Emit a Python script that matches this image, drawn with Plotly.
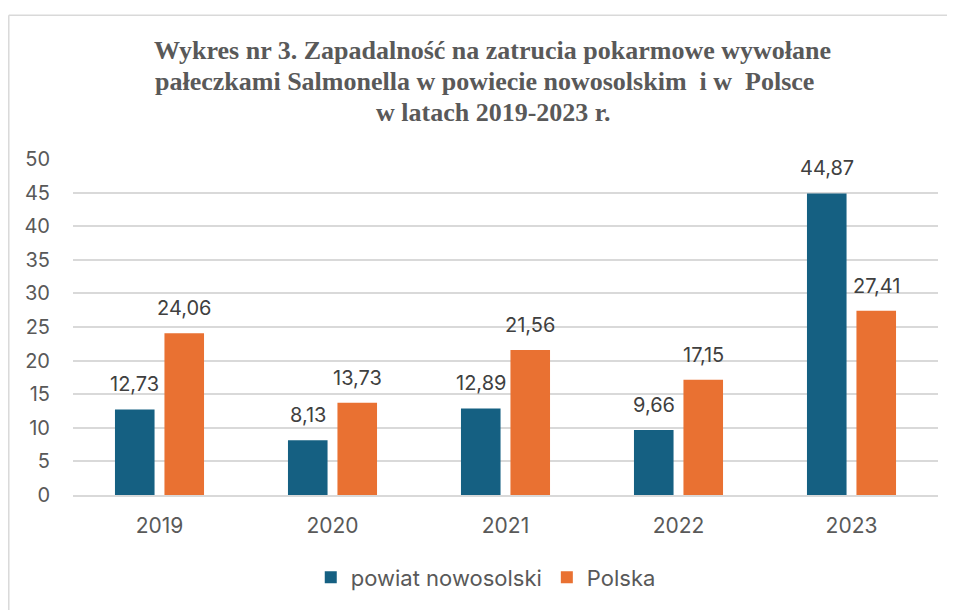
import plotly.graph_objects as go

years = ["2019", "2020", "2021", "2022", "2023"]
powiat = [12.73, 8.13, 12.89, 9.66, 44.87]
polska = [24.06, 13.73, 21.56, 17.15, 27.41]
series_names = ["powiat nowosolski", "Polska"]
title_lines = [
    "Wykres nr 3. Zapadalność na zatrucia pokarmowe wywołane",
    "pałeczkami Salmonella w powiecie nowosolskim  i w  Polsce",
    "w latach 2019-2023 r.",
]

BLUE = "#156082"
ORANGE = "#E97132"
TXT = "#595959"
SANS = "Inter, Liberation Sans, sans-serif"
SERIF = "Liberation Serif, Times New Roman, serif"

def fmt(v):
    return f"{v:.2f}".replace(".", ",")

OFF = 8  # page body margin
W, H = 955 - OFF, 610 - OFF

# page-pixel layout targets
plot_left, plot_right, plot_top, plot_bottom = 73, 938.5, 159, 497
L = plot_left - OFF
T = plot_top - OFF
R = W - (plot_right - OFF)
B = H - (plot_bottom - OFF)
pw, ph = W - L - R, H - T - B

def px_x(px):
    return (px - OFF - L) / pw

def px_y(py):
    return (H - B - (py - OFF)) / ph

fig = go.Figure()
for name, vals, col in [(series_names[0], powiat, BLUE), (series_names[1], polska, ORANGE)]:
    fig.add_trace(go.Bar(
        x=years, y=vals, name=name,
        marker=dict(color=col, line=dict(width=0)),
    ))

# data labels (category index positions on the x axis)
slot = pw / len(years) * (1 - 0.428) / 2
for vals, sgn in [(powiat, -1), (polska, 1)]:
    for i, v in enumerate(vals):
        fig.add_annotation(x=i, y=v, xref="x", yref="y", text=fmt(v), showarrow=False,
                           xshift=sgn * slot / 2, yshift=25, yanchor="middle",
                           font=dict(family=SANS, size=20, color="#404040"))

# title lines
for line, cx, base in zip(title_lines, [493, 485, 493], [59, 90, 121]):
    fig.add_annotation(x=px_x(cx), y=px_y(base - 9), xref="paper", yref="paper",
                       text="<b>" + line + "</b>", showarrow=False,
                       xanchor="center", yanchor="middle",
                       font=dict(family=SERIF, size=26, color=TXT))

fig.update_layout(
    width=W, height=H,
    margin=dict(l=L, r=R, t=T, b=B, pad=0),
    paper_bgcolor="white", plot_bgcolor="white",
    barmode="group", bargap=0.428, bargroupgap=0.2,
    showlegend=True,
    legend=dict(orientation="h", x=px_x(486), xanchor="center", y=px_y(580), yanchor="middle",
                font=dict(family=SANS, size=22, color=TXT), itemwidth=30),
    font=dict(family=SANS, color=TXT),
)
fig.update_yaxes(range=[0, 50], dtick=5, showgrid=True, gridcolor="#D9D9D9", gridwidth=1.5,
                 zeroline=False, showline=False, ticks="",
                 tickfont=dict(family=SANS, size=20, color=TXT), ticklabelstandoff=22)
fig.update_xaxes(type="category", range=[-0.5, len(years) - 0.5], showline=True,
                 linecolor="#D9D9D9", linewidth=1.5, ticks="",
                 tickfont=dict(family=SANS, size=21, color=TXT), ticklabelstandoff=11)

# chart border (partially visible)
fig.add_shape(type="line", xref="paper", yref="paper",
              x0=px_x(OFF + 0.75), x1=px_x(1000), y0=px_y(14.5), y1=px_y(14.5),
              line=dict(color="#D9D9D9", width=1.5))
fig.add_shape(type="line", xref="paper", yref="paper",
              x0=px_x(OFF + 0.75), x1=px_x(OFF + 0.75), y0=px_y(14.5), y1=px_y(700),
              line=dict(color="#D9D9D9", width=1.5))

fig.write_html("out.html")
